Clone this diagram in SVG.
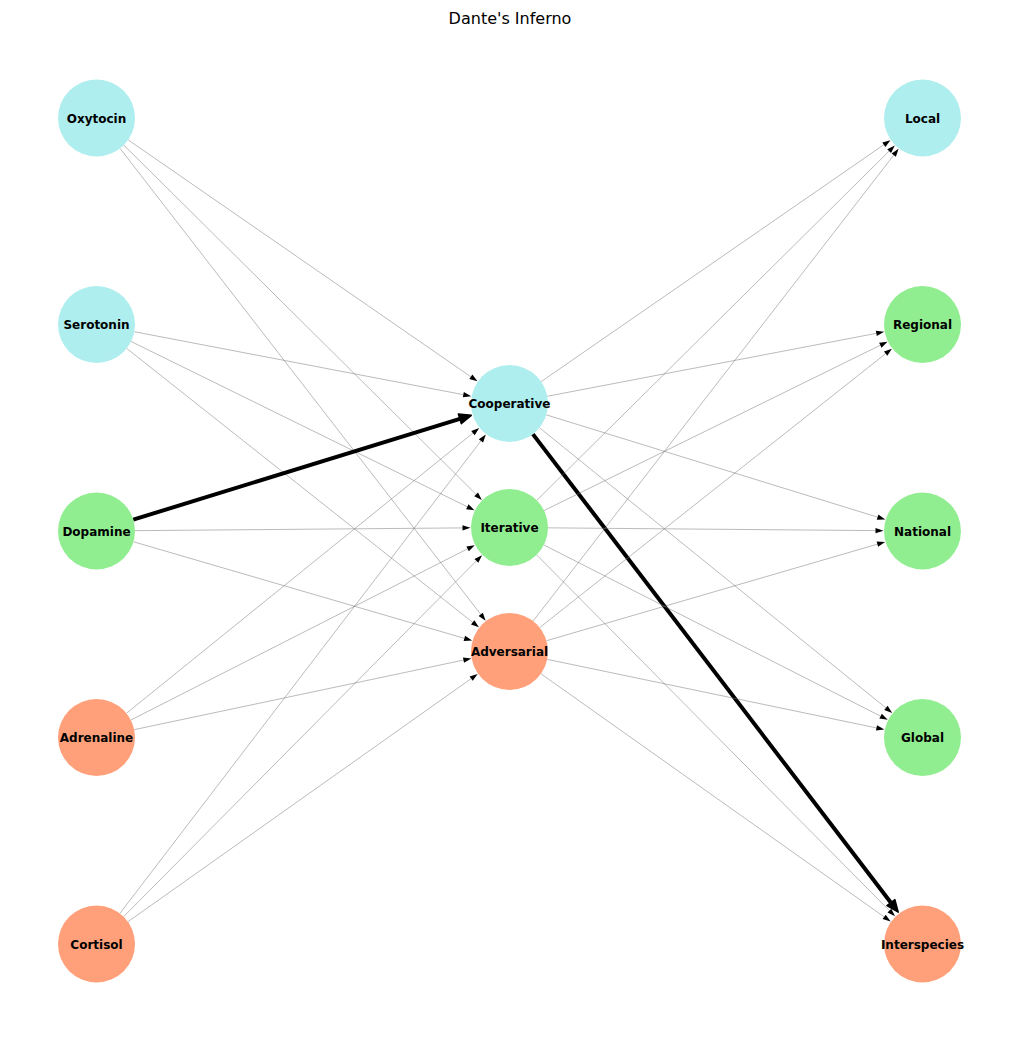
<svg xmlns="http://www.w3.org/2000/svg" width="1019" height="1042" viewBox="0 0 1019 1042">
<style>
.e{stroke:#777;stroke-width:0.5;fill:none;marker-end:url(#ah)}
.t{stroke:#000;stroke-width:4;fill:none;marker-end:url(#ahb)}
.c{fill:#AFEEEE}.g{fill:#90EE90}.s{fill:#FFA07A}
.l{font-family:"DejaVu Sans",sans-serif;font-weight:bold;font-size:12px;text-anchor:middle;fill:#000}
.title{font-family:"DejaVu Sans",sans-serif;font-size:16px;text-anchor:middle;fill:#000}
</style>
<defs>
<marker id="ah" markerWidth="9" markerHeight="7" refX="0" refY="3" orient="auto" markerUnits="userSpaceOnUse" overflow="visible"><path d="M0,0.3 L8,3 L0,5.7 z" fill="#000"/></marker>
<marker id="ahb" markerWidth="14" markerHeight="12" refX="0" refY="5" orient="auto" markerUnits="userSpaceOnUse" overflow="visible"><path d="M0,0 L12,5 L0,10 z" fill="#000" stroke="#000" stroke-width="1.5" stroke-linejoin="round"/></marker>
</defs>
<rect width="1019" height="1042" fill="#fff"/>
<text class="title" x="510" y="24">Dante's Inferno</text>
<g id="edges">
<line class="e" x1="128.17" y1="139.89" x2="470.84" y2="376.77"/>
<line class="e" x1="123.84" y1="145.11" x2="476.13" y2="494.41"/>
<line class="e" x1="120.07" y1="148.44" x2="480.73" y2="614.34"/>
<line class="e" x1="134.31" y1="331.73" x2="463.34" y2="394.67"/>
<line class="e" x1="131.05" y1="341.48" x2="467.32" y2="506.77"/>
<line class="e" x1="126.68" y1="348.40" x2="472.65" y2="622.33"/>
<line class="t" x1="133.29" y1="519.64" x2="459.81" y2="418.84"/>
<line class="e" x1="135.00" y1="530.67" x2="462.50" y2="527.90"/>
<line class="e" x1="133.46" y1="541.78" x2="464.38" y2="638.34"/>
<line class="e" x1="126.44" y1="713.29" x2="472.96" y2="433.05"/>
<line class="e" x1="130.82" y1="720.05" x2="467.61" y2="548.80"/>
<line class="e" x1="134.19" y1="729.65" x2="463.49" y2="660.08"/>
<line class="e" x1="119.88" y1="913.41" x2="480.96" y2="440.85"/>
<line class="e" x1="123.61" y1="916.66" x2="476.41" y2="560.87"/>
<line class="e" x1="127.92" y1="921.75" x2="471.15" y2="678.66"/>
<line class="e" x1="541.17" y1="381.61" x2="883.84" y2="144.73"/>
<line class="e" x1="547.31" y1="396.27" x2="876.34" y2="333.33"/>
<line class="e" x1="546.29" y1="414.86" x2="877.59" y2="517.14"/>
<line class="e" x1="539.44" y1="427.71" x2="885.96" y2="707.95"/>
<line class="t" x1="532.88" y1="434.09" x2="890.93" y2="902.68"/>
<line class="e" x1="536.84" y1="500.39" x2="889.13" y2="151.09"/>
<line class="e" x1="544.05" y1="510.52" x2="880.32" y2="345.23"/>
<line class="e" x1="548.00" y1="527.83" x2="875.50" y2="530.60"/>
<line class="e" x1="543.82" y1="544.95" x2="880.61" y2="716.20"/>
<line class="e" x1="536.61" y1="554.84" x2="889.41" y2="910.63"/>
<line class="e" x1="533.07" y1="621.06" x2="893.73" y2="155.17"/>
<line class="e" x1="539.68" y1="627.60" x2="885.65" y2="353.68"/>
<line class="e" x1="546.46" y1="640.72" x2="877.38" y2="544.16"/>
<line class="e" x1="547.19" y1="659.35" x2="876.49" y2="727.92"/>
<line class="e" x1="540.92" y1="673.75" x2="884.15" y2="916.84"/>
</g>
<g id="n-oxytocin"><circle class="c" cx="96.5" cy="118" r="38.5"/><text class="l" x="96.5" y="122.8">Oxytocin</text></g>
<g id="n-serotonin"><circle class="c" cx="96.5" cy="324.5" r="38.5"/><text class="l" x="96.5" y="329.3">Serotonin</text></g>
<g id="n-dopamine"><circle class="g" cx="96.5" cy="531" r="38.5"/><text class="l" x="96.5" y="535.8">Dopamine</text></g>
<g id="n-adrenaline"><circle class="s" cx="96.5" cy="737.5" r="38.5"/><text class="l" x="96.5" y="742.3">Adrenaline</text></g>
<g id="n-cortisol"><circle class="s" cx="96.5" cy="944" r="38.5"/><text class="l" x="96.5" y="948.8">Cortisol</text></g>
<g id="n-cooperative"><circle class="c" cx="509.5" cy="403.5" r="38.5"/><text class="l" x="509.5" y="408.3">Cooperative</text></g>
<g id="n-iterative"><circle class="g" cx="509.5" cy="527.5" r="38.5"/><text class="l" x="509.5" y="532.3">Iterative</text></g>
<g id="n-adversarial"><circle class="s" cx="509.5" cy="651.5" r="38.5"/><text class="l" x="509.5" y="656.3">Adversarial</text></g>
<g id="n-local"><circle class="c" cx="922.5" cy="118" r="38.5"/><text class="l" x="922.5" y="122.8">Local</text></g>
<g id="n-regional"><circle class="g" cx="922.5" cy="324.5" r="38.5"/><text class="l" x="922.5" y="329.3">Regional</text></g>
<g id="n-national"><circle class="g" cx="922.5" cy="531" r="38.5"/><text class="l" x="922.5" y="535.8">National</text></g>
<g id="n-global"><circle class="g" cx="922.5" cy="737.5" r="38.5"/><text class="l" x="922.5" y="742.3">Global</text></g>
<g id="n-interspecies"><circle class="s" cx="922.5" cy="944" r="38.5"/><text class="l" x="922.5" y="948.8">Interspecies</text></g>
</svg>
